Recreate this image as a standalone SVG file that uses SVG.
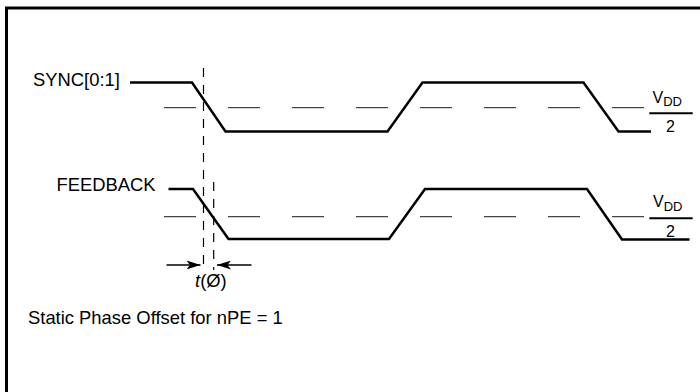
<svg xmlns="http://www.w3.org/2000/svg" width="700" height="392" viewBox="0 0 700 392">
<defs>
<style>
text{font-family:"Liberation Sans",Arial,Helvetica,sans-serif;fill:#000}
.lbl{font-size:18.4px}
.v{font-size:16px}
.sub{font-size:13px}
.wave{fill:none;stroke:#000;stroke-width:2.5;stroke-linejoin:miter}
.thr{fill:none;stroke:#444;stroke-width:1.2;stroke-dasharray:32 32}
.vdash{fill:none;stroke:#000;stroke-width:1.2;stroke-dasharray:9 8}
.bar{stroke:#000;stroke-width:2}
.arr{fill:none;stroke:#000;stroke-width:1.5}
</style>
<marker id="ah" viewBox="0 0 14 9" refX="14" refY="4.5" markerWidth="14" markerHeight="9" markerUnits="userSpaceOnUse" orient="auto">
<path d="M0,0 L14,4.5 L0,9 L3.5,4.5 z" fill="#000"/>
</marker>
</defs>
<rect x="6.5" y="8" width="800" height="500" fill="none" stroke="#000" stroke-width="3"/>
<g id="connectors">
<line class="thr" x1="164" y1="107.7" x2="644" y2="107.7"/>
<line class="thr" x1="164" y1="216.7" x2="644" y2="216.7"/>
<line class="vdash" x1="203.5" y1="68" x2="203.5" y2="270"/>
<line class="vdash" x1="213.7" y1="182" x2="213.7" y2="270"/>
<line class="arr" x1="166.5" y1="265" x2="200.5" y2="265" marker-end="url(#ah)"/>
<line class="arr" x1="251.5" y1="265" x2="217" y2="265" marker-end="url(#ah)"/>
</g>
<g id="sync">
<text class="lbl" x="33" y="86">SYNC[0:1]</text>
<polyline class="wave" points="130,82.5 192,82.5 225.5,131.5 387.5,131.5 422.5,82.5 583.5,82.5 618.5,131.5 651,131.5"/>
</g>
<g id="feedback">
<text class="lbl" x="56.5" y="191">FEEDBACK</text>
<polyline class="wave" points="168.5,189 193,189 228.5,239 389,239 425,189 587,189 622,239.5 689.5,239.5"/>
</g>
<g id="vdd-sync">
<text class="v" x="652.5" y="103.3">V<tspan class="sub" dy="3">DD</tspan></text>
<line class="bar" x1="649.3" y1="113.3" x2="692.7" y2="113.3"/>
<text class="v" x="670.5" y="131.5" text-anchor="middle">2</text>
</g>
<g id="vdd-feedback">
<text class="v" x="653" y="206.7">V<tspan class="sub" dy="4">DD</tspan></text>
<line class="bar" x1="649.3" y1="218.3" x2="692.7" y2="218.3"/>
<text class="v" x="670.5" y="236.5" text-anchor="middle">2</text>
</g>
<g id="t-label">
<text class="lbl" x="195" y="287"><tspan font-style="italic">t</tspan>(Ø)</text>
</g>
<g id="caption">
<text class="lbl" x="28" y="324">Static Phase Offset for nPE = 1</text>
</g>
</svg>
